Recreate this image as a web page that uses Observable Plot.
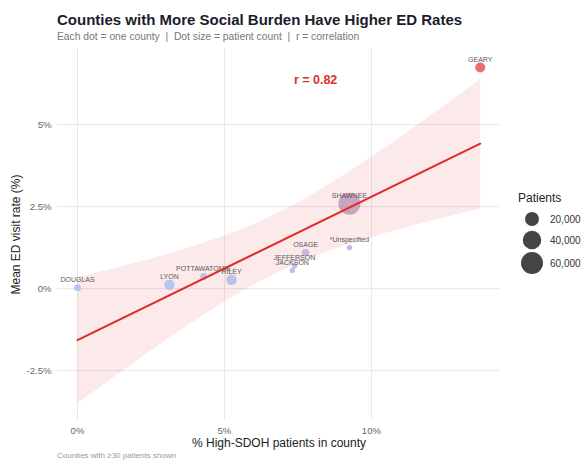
<!DOCTYPE html>
<html>
<head>
<meta charset="utf-8">
<script src="https://cdn.jsdelivr.net/npm/d3@7"></script>
<script src="https://cdn.jsdelivr.net/npm/@observablehq/plot@0.6"></script>
<style>
  html, body { margin: 0; padding: 0; background: #fff; }
  body { width: 586px; height: 461px; position: relative; overflow: hidden; font-family: "Liberation Sans", Arial, sans-serif; }
  #title { position: absolute; left: 57px; top: 11px; font-size: 15px; font-weight: bold; color: #1c1c2c; white-space: nowrap; }
  #subtitle { position: absolute; left: 57px; top: 31px; font-size: 10.3px; color: #777; white-space: nowrap; }
  #chart { position: absolute; left: 0; top: 44px; }
  #caption { position: absolute; left: 57px; top: 451px; font-size: 8px; color: #999; white-space: nowrap; }
  #legend { position: absolute; left: 518px; top: 189px; }
</style>
</head>
<body>
<div id="title">Counties with More Social Burden Have Higher ED Rates</div>
<div id="subtitle">Each dot = one county &nbsp;|&nbsp; Dot size = patient count &nbsp;|&nbsp; r = correlation</div>
<div id="chart"></div>
<div id="legend"></div>
<div id="caption">Counties with ≥30 patients shown</div>
<script>
// ---- data ----
const counties    = ["DOUGLAS", "LYON", "POTTAWATOMIE", "RILEY", "JEFFERSON", "JACKSON", "OSAGE", "*Unspecified", "SHAWNEE", "GEARY"];
const pctHighSDOH = [0.0, 3.13, 4.29, 5.24, 7.38, 7.31, 7.76, 9.25, 9.25, 13.7];
const edRate      = [0.03, 0.12, 0.37, 0.27, 0.70, 0.55, 1.10, 1.25, 2.59, 6.74];
const patients    = [2600, 9100, 2700, 9500, 1000, 1000, 3000, 1000, 60000, 8200];
const xTicks = [0, 5, 10];
const yTicks = [-2.5, 0, 2.5, 5];
const legendValues = [20000, 40000, 60000];
const corrLabel = ["r = 0.82"];
const corrPos = [{x: 8.1, y: 6.37}];

const data = counties.map((c, i) => ({county: c, x: pctHighSDOH[i], y: edRate[i], n: patients[i]}));
const annot = corrLabel.map((t, i) => ({label: t, ...corrPos[i]}));

const FONT = "'Liberation Sans', Arial, sans-serif";
const RED = "#e02a2a";
const plot = Plot.plot({
  width: 510,
  height: 410,
  marginLeft: 57,
  marginRight: 10,
  marginTop: 4,
  marginBottom: 34,
  style: {fontFamily: FONT, background: "transparent"},
  x: {domain: [-0.68, 14.39], ticks: xTicks},
  y: {domain: [-4.02, 7.32], ticks: yTicks},
  r: {type: "pow", exponent: 0.5, domain: [0, 60000], range: [1.5, 11]},
  color: {type: "linear", domain: [0, 6.74], range: ["#a4bff0", "#e8474c"], interpolate: "rgb"},
  marks: [
    Plot.gridX(xTicks, {stroke: "#e8e8e8", strokeOpacity: 1, strokeWidth: 1}),
    Plot.gridY(yTicks, {stroke: "#e8e8e8", strokeOpacity: 1, strokeWidth: 1}),
    Plot.linearRegressionY(data, {x: "x", y: "y", stroke: "none", fill: RED, fillOpacity: 0.1}),
    Plot.dot(data, {x: "x", y: "y", r: "n", fill: "y", fillOpacity: 0.8, stroke: "none"}),
    Plot.text(data, {x: "x", y: "y", text: "county", dy: -8, fontSize: 7, fill: "#5a5a5a"}),
    Plot.linearRegressionY(data, {x: "x", y: "y", ci: 0, stroke: RED, strokeWidth: 2}),
    Plot.text(annot, {x: "x", y: "y", text: "label", fill: "#d93030", fontSize: 12.5, fontWeight: "bold"}),
    Plot.axisX({ticks: xTicks, tickSize: 0, tickPadding: 7, tickFormat: d => d + "%", fontSize: 9.6, color: "#666",
      label: "% High-SDOH patients in county", labelAnchor: "center", labelArrow: "none", labelOffset: 26}),
    Plot.axisY({ticks: yTicks, tickSize: 0, tickPadding: 6, tickFormat: d => d + "%", fontSize: 9.6, color: "#666",
      label: "Mean ED visit rate (%)", labelAnchor: "center", labelArrow: "none", labelOffset: 46})
  ]
});
document.getElementById("chart").appendChild(plot);

plot.querySelectorAll("[aria-label='x-axis label'], [aria-label='y-axis label']").forEach(g => {
  g.setAttribute("font-size", "12"); g.setAttribute("fill", "#222");
  g.querySelectorAll("text").forEach(t => { t.style.fontSize = "12px"; t.style.fill = "#222"; });
});

// legend built with the plot's own r scale
const rScale = plot.scale("r");
const NS = "http://www.w3.org/2000/svg";
const lsvg = document.createElementNS(NS, "svg");
lsvg.setAttribute("width", 68);
lsvg.setAttribute("height", 90);
lsvg.style.fontFamily = FONT;
const title = document.createElementNS(NS, "text");
title.setAttribute("x", 0); title.setAttribute("y", 13);
title.setAttribute("font-size", "12"); title.setAttribute("fill", "#222");
title.textContent = "Patients";
lsvg.appendChild(title);
const rowY = [30, 51, 74];
legendValues.forEach((v, i) => {
  const c = document.createElementNS(NS, "circle");
  c.setAttribute("cx", 14); c.setAttribute("cy", rowY[i]);
  c.setAttribute("r", rScale.apply(v)); c.setAttribute("fill", "#444");
  lsvg.appendChild(c);
  const t = document.createElementNS(NS, "text");
  t.setAttribute("x", 32); t.setAttribute("y", rowY[i]); t.setAttribute("dy", "0.35em");
  t.setAttribute("font-size", "10"); t.setAttribute("fill", "#333");
  t.textContent = d3.format(",")(v);
  lsvg.appendChild(t);
});
document.getElementById("legend").appendChild(lsvg);
</script>
</body>
</html>
